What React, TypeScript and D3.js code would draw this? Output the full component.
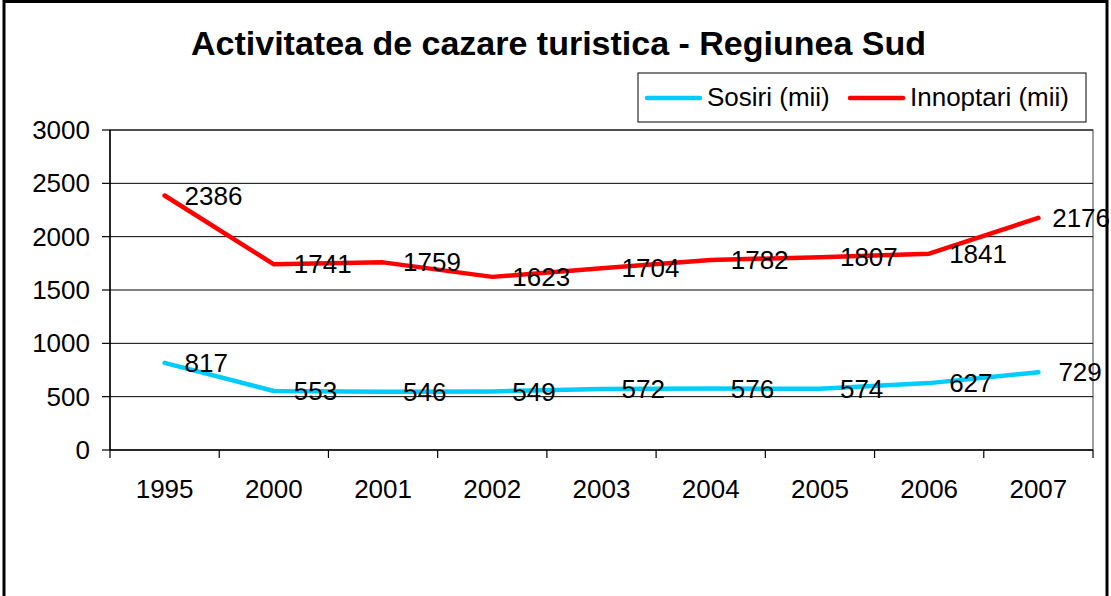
import React from "react";
import * as d3 from "d3";

const categories = ["1995", "2000", "2001", "2002", "2003", "2004", "2005", "2006", "2007"];
const sosiri = [817, 553, 546, 549, 572, 576, 574, 627, 729];
const innoptari = [2386, 1741, 1759, 1623, 1704, 1782, 1807, 1841, 2176];
const yTicks = [0, 500, 1000, 1500, 2000, 2500, 3000];
const seriesNames = ["Sosiri (mii)", "Innoptari (mii)"];

const W = 1111, H = 596;
const FONT = "'Liberation Sans', Arial, sans-serif";
const FS = 26;

export default function App() {
  const left = 110, right = 1093, top = 130, bottom = 450;
  const x = d3.scaleBand<string>().domain(categories).range([left, right]).padding(0);
  const y = d3.scaleLinear().domain([0, 3000]).range([bottom, top]);
  const cx = (c: string) => (x(c) as number) + x.bandwidth() / 2;
  const line = d3.line<number>().x((_, i) => cx(categories[i])).y((d) => y(d)).curve(d3.curveLinear);
  const series = [
    { name: seriesNames[0], values: sosiri, color: "#00CCFF" },
    { name: seriesNames[1], values: innoptari, color: "#FF0000" },
  ];
  const boundaries = categories.map((c) => x(c) as number).concat([right]);
  const labelX = (i: number, v: number) => {
    const w = String(v).length * 0.556 * FS;
    return Math.min(cx(categories[i]) + 20, 1110 - w);
  };

  return (
    <svg width={W} height={H} style={{ position: "absolute", left: 0, top: 0, background: "#fff" }} fontFamily={FONT}>
      <rect x={0} y={0} width={W} height={H} fill="#fff" />
      <rect x={4} y={1.5} width={1103} height={H + 10} fill="none" stroke="#000" strokeWidth={3} />
      <text x={558.5} y={55} textAnchor="middle" fontSize={34} fontWeight="bold">
        Activitatea de cazare turistica - Regiunea Sud
      </text>
      <rect x={left} y={top} width={right - left} height={bottom - top} fill="none" stroke="#808080" strokeWidth={1.5} />
      {yTicks.map((t) => (
        <g key={t}>
          {t > 0 && <line x1={left} x2={right} y1={y(t)} y2={y(t)} stroke="#000" strokeWidth={1} />}
          <line x1={left - 8} x2={left} y1={y(t)} y2={y(t)} stroke="#000" strokeWidth={1.2} />
          <text x={90} y={y(t)} dy="0.35em" textAnchor="end" fontSize={FS}>{t}</text>
        </g>
      ))}
      <line x1={left} x2={left} y1={top} y2={bottom} stroke="#000" strokeWidth={1.5} />
      <line x1={left} x2={right} y1={bottom} y2={bottom} stroke="#000" strokeWidth={1.5} />
      {boundaries.map((b, i) => (
        <line key={i} x1={b} x2={b} y1={bottom} y2={bottom + 8} stroke="#000" strokeWidth={1.2} />
      ))}
      {categories.map((c) => (
        <text key={c} x={cx(c)} y={498} textAnchor="middle" fontSize={FS}>{c}</text>
      ))}
      {series.map((s) => (
        <path key={s.name} d={line(s.values) || ""} fill="none" stroke={s.color} strokeWidth={4.5} strokeLinejoin="round" strokeLinecap="round" />
      ))}
      {series.map((s) =>
        s.values.map((v, i) => (
          <text key={s.name + i} x={labelX(i, v)} y={y(v)} dy="0.35em" fontSize={FS}>{v}</text>
        ))
      )}
      <rect x={638} y={73} width={448} height={49} fill="#fff" stroke="#000" strokeWidth={1} />
      <line x1={647} x2={700} y1={98} y2={98} stroke={series[0].color} strokeWidth={4.5} strokeLinecap="round" />
      <text x={707} y={106} fontSize={FS}>{series[0].name}</text>
      <line x1={850} x2={903} y1={98} y2={98} stroke={series[1].color} strokeWidth={4.5} strokeLinecap="round" />
      <text x={910} y={106} fontSize={FS}>{series[1].name}</text>
    </svg>
  );
}
